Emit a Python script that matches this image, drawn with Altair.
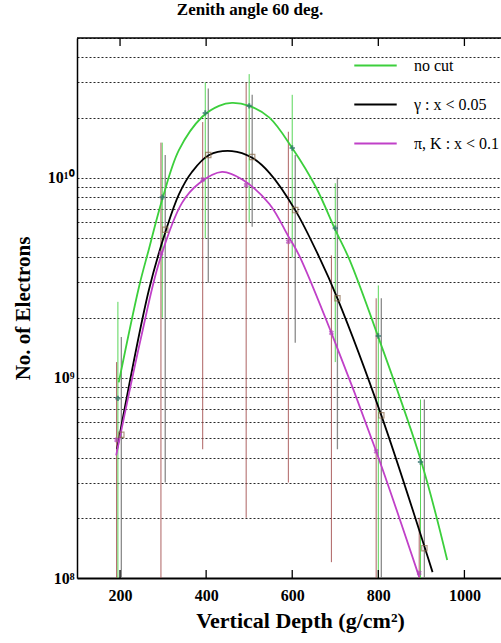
import altair as alt
import pandas as pd

# ---------------- data ----------------
series_names = ["no cut", "γ : x < 0.05", "π, K : x < 0.1"]
series_colors = ["#3ccf3c", "#000000", "#c040c8"]

# fitted curves (depth, number of electrons)
green_x = [197, 244, 267, 298, 337, 391, 430, 460, 500, 547, 600, 656, 700, 733, 800, 900, 960]
green_y = [9.5e8, 2.85e9, 4.4e9, 7.8e9, 1.38e10, 2.02e10, 2.29e10, 2.37e10, 2.29e10, 2.0e10,
           1.41e10, 8.9e9, 5.5e9, 3.9e9, 1.6e9, 3.8e8, 1.23e8]
black_x = [193, 267, 307, 337, 367, 407, 460, 507, 547, 607, 663, 705, 807, 926]
black_y = [4.4e8, 2.75e9, 5.5e9, 8.3e9, 1.07e10, 1.30e10, 1.36e10, 1.26e10, 1.06e10,
           6.9e9, 4.0e9, 2.5e9, 6.5e8, 1.07e8]
mag_x = [191, 249, 291, 344, 384, 437, 484, 547, 591, 616, 691, 795, 895]
mag_y = [4.1e8, 1.6e9, 3.8e9, 7.5e9, 9.4e9, 1.07e10, 9.8e9, 7.4e9, 5.1e9, 4.1e9,
         1.68e9, 4.3e8, 1.01e8]

# measured points with error bars
gp_x = [195, 298, 398, 500, 600, 700, 800, 898]
gp_y = [7.9e8, 8.0e9, 2.11e10, 2.29e10, 1.41e10, 5.6e9, 1.62e9, 3.8e8]
gp_lo = [1.0e8, 2.0e9, 5.0e9, 6.0e9, 4.0e9, 1.2e9, 1.0e8, 1.0e8]
gp_hi = [2.4e9, 1.5e10, 3.0e10, 3.3e10, 2.6e10, 9.4e9, 2.9e9, 7.8e8]

bp_x = [203, 305, 405, 507, 607, 705, 807, 907]
bp_y = [5.2e8, 5.5e9, 1.30e10, 1.27e10, 6.9e9, 2.5e9, 6.5e8, 1.41e8]
bp_lo = [1.0e8, 3.0e8, 3.0e9, 5.7e9, 1.5e9, 4.4e8, 1.0e8, 1.0e8]
bp_hi = [1.6e9, 1.3e10, 2.8e10, 2.6e10, 1.3e10, 1.0e10, 2.5e9, 7.8e8]

mp_x = [192, 295, 392, 493, 591, 691, 795, 895]
mp_y = [4.9e8, 4.2e9, 9.8e9, 9.2e9, 4.8e9, 1.68e9, 4.3e8, 1.06e8]
mp_lo = [1.0e8, 1.0e8, 4.4e8, 2.0e8, 3.0e8, 1.2e8, 1.0e8, 1.0e8]
mp_hi = [1.2e9, 1.5e10, 1.9e10, 3.0e10, 1.7e10, 4.1e9, 2.5e9, 2.0e8]

x_ticks = [200, 400, 600, 800, 1000]
y_grid = [1e8, 2e8, 3e8, 4e8, 5e8, 6e8, 7e8, 8e8, 9e8,
          1e9, 2e9, 3e9, 4e9, 5e9, 6e9, 7e9, 8e9, 9e9,
          1e10, 2e10, 3e10, 4e10, 5e10]

# ---------------- tables ----------------
curves = pd.concat([
    pd.DataFrame({"series": series_names[0], "depth": green_x, "n": green_y}),
    pd.DataFrame({"series": series_names[1], "depth": black_x, "n": black_y}),
    pd.DataFrame({"series": series_names[2], "depth": mag_x, "n": mag_y}),
], ignore_index=True)

pts = pd.concat([
    pd.DataFrame({"series": series_names[0], "depth": gp_x, "n": gp_y, "lo": gp_lo, "hi": gp_hi}),
    pd.DataFrame({"series": series_names[1], "depth": bp_x, "n": bp_y, "lo": bp_lo, "hi": bp_hi}),
    pd.DataFrame({"series": series_names[2], "depth": mp_x, "n": mp_y, "lo": mp_lo, "hi": mp_hi}),
], ignore_index=True)

ticks = pd.DataFrame({"depth": x_ticks})
one = pd.DataFrame({"a": [0]})

W, H = 424, 540
SERIF = "Liberation Serif"

xscale = alt.Scale(domain=[100, 1085], nice=False, zero=False)
yscale = alt.Scale(type="log", domain=[1e8, 5e10], nice=False)

label_expr = ("datum.value == 100000000 ? '10⁸' : datum.value == 1000000000 ? '10⁹' : "
              "datum.value == 10000000000 ? '10¹⁰' : ''")

x_axis = alt.Axis(values=x_ticks, title="Vertical Depth (g/cm²)", ticks=False,
                  grid=False, labelPadding=9, titlePadding=7, titleX=223,
                  domainColor="black", domainWidth=2, format="d",
                  labelFont=SERIF, labelFontSize=16, labelFontWeight="bold", labelColor="black",
                  titleFont=SERIF, titleFontSize=22, titleFontWeight="bold", titleColor="black")
y_axis = alt.Axis(values=y_grid, labelExpr=label_expr, title="No. of Electrons",
                  ticks=False, grid=True, gridDash=[2, 2], gridColor="#111111",
                  gridWidth=1, gridOpacity=0.9, labelOverlap=False,
                  labelPadding=3, titlePadding=14,
                  domainColor="black", domainWidth=1.5,
                  labelFont=SERIF, labelFontSize=16, labelFontWeight="bold", labelColor="black",
                  titleFont=SERIF, titleFontSize=21, titleFontWeight="bold", titleColor="black")

x_enc = alt.X("depth:Q", scale=xscale, axis=x_axis)
y_enc = alt.Y("n:Q", scale=yscale, axis=y_axis)

base_pts = alt.Chart(pts)


def err_layer(name, color, sw):
    return base_pts.transform_filter(alt.datum.series == name).mark_rule(
        color=color, strokeWidth=sw, opacity=0.85, clip=True).encode(
        x=x_enc, y=alt.Y("lo:Q", scale=yscale, axis=y_axis), y2="hi:Q")


errs = [err_layer(series_names[0], "#3ccf3c", 1),
        err_layer(series_names[1], "#777777", 1.3),
        err_layer(series_names[2], "#a04848", 1)]

lines = alt.Chart(curves).mark_line(strokeWidth=1.8, interpolate="catmull-rom", clip=True).encode(
    x=x_enc, y=y_enc,
    color=alt.Color("series:N", scale=alt.Scale(domain=series_names, range=series_colors),
                    sort=series_names,
                    legend=alt.Legend(title=None, orient="none", legendX=276, legendY=5,
                                      symbolType="stroke", symbolSize=1800,
                                      symbolStrokeWidth=2, labelFont=SERIF,
                                      labelFontSize=16, labelFontWeight="normal",
                                      labelColor="black", labelOffset=16, rowPadding=8,
                                      padding=0, labelLimit=300)),
    detail="series:N",
)

m_green = base_pts.transform_filter(alt.datum.series == series_names[0]).mark_point(
    shape="cross", filled=True, size=28, color="#2a6e6a", clip=True).encode(x=x_enc, y=y_enc)
m_black = base_pts.transform_filter(alt.datum.series == series_names[1]).mark_point(
    shape="square", filled=False, size=28, color="#8a6a4a", strokeWidth=1.2, clip=True).encode(x=x_enc, y=y_enc)
m_mag = base_pts.transform_filter(alt.datum.series == series_names[2]).mark_point(
    shape="cross", angle=45, filled=True, size=28, color="#b040b8", clip=True).encode(x=x_enc, y=y_enc)

tick_bottom = alt.Chart(ticks).mark_rule(color="black", strokeWidth=1.3).encode(
    x=alt.X("depth:Q", scale=xscale), y=alt.value(H), y2=alt.value(H - 8))
tick_top = alt.Chart(ticks).mark_rule(color="black", strokeWidth=1.3).encode(
    x=alt.X("depth:Q", scale=xscale), y=alt.value(0), y2=alt.value(8))
top_border = alt.Chart(one).mark_rule(color="black", strokeWidth=1.5).encode(
    x=alt.value(0), x2=alt.value(W), y=alt.value(0))

chart = alt.layer(*errs, lines, m_green, m_black, m_mag, tick_bottom, tick_top, top_border).properties(
    width=W, height=H,
    padding={"left": 77, "top": 38, "right": 0, "bottom": 65},
    autosize=alt.AutoSizeParams(type="none"),
    background="white",
    title=alt.TitleParams("Zenith angle 60 deg.", font=SERIF, fontSize=17, fontWeight="bold",
                          anchor="middle", dx=-39, offset=11, color="black"),
).configure_view(stroke=None)

chart.save("out.html", embed_options={"renderer": "svg", "actions": False})
